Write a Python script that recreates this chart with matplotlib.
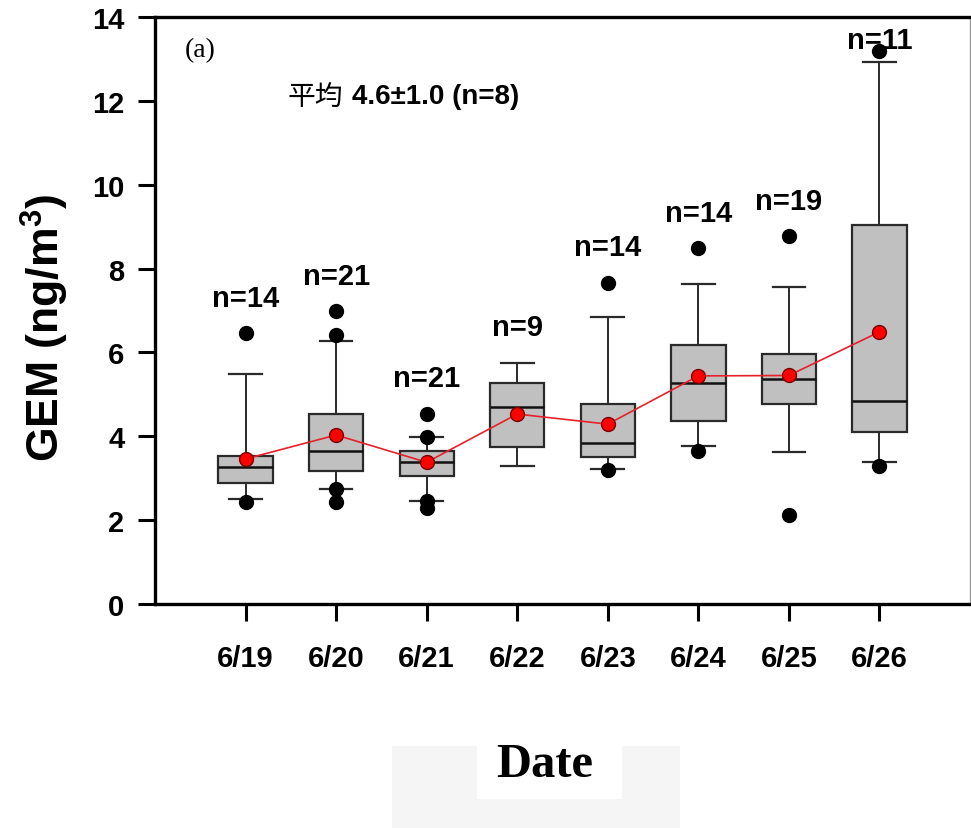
import matplotlib
matplotlib.use("Agg")
import matplotlib.pyplot as plt
import matplotlib.patches as mpatches

# daily GEM summary statistics (ng/m3)
dates = ["6/19", "6/20", "6/21", "6/22", "6/23", "6/24", "6/25", "6/26"]
n_obs = [14, 21, 21, 9, 14, 14, 19, 11]
q1 = [2.89, 3.17, 3.06, 3.75, 3.51, 4.37, 4.76, 4.10]
median = [3.26, 3.66, 3.38, 4.69, 3.84, 5.28, 5.37, 4.83]
q3 = [3.54, 4.52, 3.66, 5.26, 4.78, 6.18, 5.96, 9.03]
whis_lo = [2.50, 2.74, 2.46, 3.30, 3.22, 3.76, 3.63, 3.38]
whis_hi = [5.48, 6.28, 3.99, 5.75, 6.85, 7.64, 7.56, 12.93]
means = [3.46, 4.03, 3.38, 4.53, 4.29, 5.44, 5.45, 6.49]
outliers = [
    [6.46, 2.43],
    [6.98, 6.42, 2.74, 2.43],
    [4.53, 3.99, 2.45, 2.30],
    [],
    [7.66, 3.19],
    [8.48, 3.65],
    [8.77, 2.12],
    [13.2, 3.30],
]

plt.rcParams["mathtext.fontset"] = "custom"
plt.rcParams["mathtext.bf"] = "Liberation Sans:bold"
plt.rcParams["mathtext.rm"] = "Liberation Sans:bold"

W, H = 971, 829
fig = plt.figure(figsize=(W / 100, H / 100), dpi=100)
ax = fig.add_axes([155 / W, 1 - 605 / H, 815 / W, 587 / H])

stats = []
for i in range(len(dates)):
    stats.append(dict(med=median[i], q1=q1[i], q3=q3[i],
                      whislo=whis_lo[i], whishi=whis_hi[i],
                      fliers=outliers[i], mean=means[i], label=dates[i]))

pos = list(range(1, len(dates) + 1))
ax.bxp(stats, positions=pos, widths=0.6, capwidths=0.36, patch_artist=True,
       showmeans=False, showfliers=True,
       boxprops=dict(facecolor="#c0c0c0", edgecolor="#2a2a2a", linewidth=1.6),
       medianprops=dict(color="#111111", linewidth=1.8),
       whiskerprops=dict(color="#2a2a2a", linewidth=1.4),
       capprops=dict(color="#2a2a2a", linewidth=1.6),
       flierprops=dict(marker="o", markerfacecolor="black", markeredgecolor="black",
                       markersize=10))

ax.plot(pos, means, color="#e8202a", lw=1.2, zorder=5)
ax.plot(pos, means, "o", ms=10, mfc="#ff0000", mec="#7a0000", mew=1.0, zorder=6)

# sample-size labels above each box
for i, p in enumerate(pos):
    top = max([whis_hi[i]] + outliers[i])
    ax.text(p, min(top + 0.85, 13.45), f"n={n_obs[i]}", ha="center", va="center",
            fontsize=21, fontweight="bold", family="Liberation Sans")

ax.set_xlim(0, 9)
ax.set_ylim(0, 14)
ax.set_yticks(range(0, 15, 2))
ax.set_xticks(pos)
ax.set_xticklabels(dates)

for s in ["left", "top", "bottom"]:
    ax.spines[s].set_linewidth(2.4)
    ax.spines[s].set_color("black")
ax.spines["right"].set_linewidth(1.0)
ax.spines["right"].set_color("#9a9a9a")

ax.tick_params(axis="y", direction="out", length=12, width=2.2, pad=10,
               labelsize=21)
ax.tick_params(axis="x", direction="out", length=12, width=2.2, pad=17,
               labelsize=21)
for lab in ax.get_xticklabels() + ax.get_yticklabels():
    lab.set_fontweight("bold")
    lab.set_family("Liberation Sans")

fig.text(45 / W, 1 - 328 / H, "GEM (ng/m$^{3}$)", rotation=90, ha="center",
         va="center", fontsize=32, fontweight="bold", family="Liberation Sans")

ax.text(0.037, 0.945, "(a)", transform=ax.transAxes, ha="left", va="center",
        fontsize=20, family="Liberation Serif")
ax.text(0.163, 0.865, "平均", transform=ax.transAxes, ha="left", va="center",
        fontsize=20, family="Noto Sans CJK TC")
ax.text(0.242, 0.865, "4.6±1.0 (n=8)", transform=ax.transAxes, ha="left",
        va="center", fontsize=20, fontweight="bold", family="Liberation Sans")

# faint watermark strip behind the axis title
fig.patches.append(mpatches.Rectangle((392 / W, 0), 288 / W, 1 - 747 / H,
                                      transform=fig.transFigure,
                                      facecolor="#f5f5f5", edgecolor="none"))
fig.patches.append(mpatches.Rectangle((477 / W, 1 - 800 / H), 145 / W, 53 / H,
                                      transform=fig.transFigure,
                                      facecolor="white", edgecolor="none"))
fig.text(545 / W, 1 - 765 / H, "Date", ha="center", va="center", fontsize=35,
         fontweight="bold", family="Liberation Serif")

fig.savefig("out.png", dpi=100)
